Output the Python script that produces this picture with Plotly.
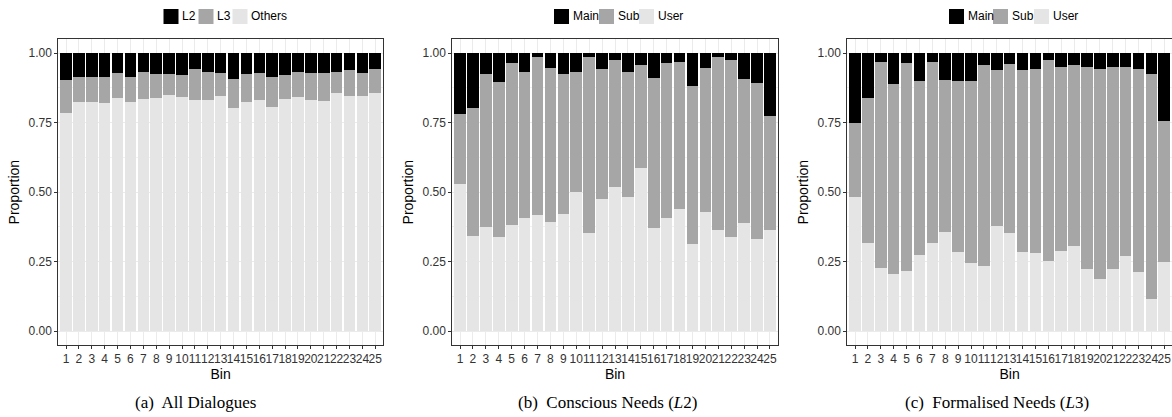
import plotly.graph_objects as go

bins = list(range(1, 26))
bin_labels = [str(b) for b in bins]

# Panel (a): All Dialogues
a_l2 = [0.098,0.084,0.084,0.084,0.073,0.084,0.068,0.076,0.076,0.080,0.058,0.068,0.073,0.094,0.076,0.073,0.087,0.080,0.066,0.073,0.073,0.068,0.062,0.073,0.058]
a_l3 = [0.117,0.092,0.092,0.096,0.089,0.092,0.098,0.086,0.076,0.079,0.111,0.101,0.082,0.104,0.100,0.096,0.107,0.086,0.093,0.096,0.100,0.076,0.093,0.082,0.086]
a_others = [0.785,0.824,0.824,0.820,0.838,0.824,0.834,0.838,0.848,0.841,0.831,0.831,0.845,0.802,0.824,0.831,0.806,0.834,0.841,0.831,0.827,0.856,0.845,0.845,0.856]

# Panel (b): Conscious Needs (L2)
b_main = [0.220,0.198,0.076,0.105,0.037,0.066,0.015,0.055,0.076,0.069,0.015,0.058,0.023,0.066,0.044,0.091,0.037,0.033,0.119,0.055,0.012,0.026,0.094,0.109,0.227]
b_sub = [0.251,0.459,0.549,0.556,0.581,0.526,0.567,0.552,0.502,0.430,0.631,0.466,0.458,0.451,0.369,0.537,0.555,0.527,0.567,0.516,0.623,0.635,0.516,0.559,0.408]
b_user = [0.529,0.343,0.375,0.339,0.382,0.408,0.418,0.393,0.422,0.501,0.354,0.476,0.519,0.483,0.587,0.372,0.408,0.440,0.314,0.429,0.365,0.339,0.390,0.332,0.365]

# Panel (c): Formalised Needs (L3)
c_main = [0.252,0.162,0.033,0.112,0.037,0.101,0.033,0.098,0.101,0.101,0.044,0.062,0.040,0.062,0.058,0.026,0.051,0.044,0.051,0.058,0.048,0.051,0.058,0.076,0.243]
c_sub = [0.265,0.520,0.739,0.681,0.746,0.624,0.649,0.545,0.613,0.653,0.720,0.559,0.606,0.652,0.660,0.721,0.660,0.649,0.724,0.753,0.727,0.678,0.728,0.807,0.507]
c_user = [0.483,0.318,0.228,0.207,0.217,0.275,0.318,0.357,0.286,0.246,0.236,0.379,0.354,0.286,0.282,0.253,0.289,0.307,0.225,0.189,0.225,0.271,0.214,0.117,0.250]

y_ticks = [0, 0.25, 0.5, 0.75, 1.0]

BLACK = "#000000"
MID = "#a6a6a6"
LIGHT = "#e5e5e5"

W, H = 1172, 417
panels = [
    (58.3, 383.0, [("Others", a_others, LIGHT), ("L3", a_l3, MID), ("L2", a_l2, BLACK)],
     "(a)  All Dialogues", 195, [163.5, 198.5, 232.5]),
    (452.3, 777.7, [("User", b_user, LIGHT), ("Sub", b_sub, MID), ("Main", b_main, BLACK)],
     "(b)  Conscious Needs (<i>L</i>2)", 608, [554, 599, 639]),
    (847.3, 1172.0, [("User", c_user, LIGHT), ("Sub", c_sub, MID), ("Main", c_main, BLACK)],
     "(c)  Formalised Needs (<i>L</i>3)", 997, [949, 993, 1034]),
]

fig = go.Figure()
y0p, y1p = 39.3, 345.0
ydom = [(H - y1p) / H, (H - y0p) / H]
KEY = 15
key_top, key_bot = 9, 24

annotations = []
shapes = []
for i, (x0, x1, series, caption, cap_x, key_x) in enumerate(panels):
    sfx = "" if i == 0 else str(i + 1)
    for name, vals, col in series:
        fig.add_trace(go.Bar(
            x=bins, y=vals, name=name, width=0.9,
            marker=dict(color=col, line=dict(width=0)),
            xaxis="x" + sfx, yaxis="y" + sfx, showlegend=False,
        ))
    for (name, vals, col), kx in zip(series[::-1], key_x):
        shapes.append(dict(
            type="rect", xref="paper", yref="paper",
            x0=kx / W, x1=(kx + KEY) / W, y0=(H - key_bot) / H, y1=(H - key_top) / H,
            fillcolor=col, line=dict(width=0), layer="above",
        ))
        annotations.append(dict(
            text=name, x=(kx + KEY + 1.5) / W, y=(H - 16.5) / H, xref="paper", yref="paper",
            xanchor="left", yanchor="middle", showarrow=False,
            font=dict(family="Liberation Sans", size=12, color="#000000"),
        ))
    xd = [x0 / W, min(x1 / W, 1.0)]
    fig.update_layout(**{
        "xaxis" + sfx: dict(
            domain=xd, range=[0.4, 25.6], anchor="y" + sfx,
            tickmode="array", tickvals=bins, ticktext=bin_labels, tickangle=0,
            ticks="outside", ticklen=3, tickcolor="#333333", tickwidth=1,
            tickfont=dict(family="Liberation Sans", size=12, color="#333333"),
            showgrid=True, gridcolor="#ebebeb", gridwidth=1,
            showline=True, mirror=True, linecolor="#333333", linewidth=1,
            zeroline=False,
            title=dict(text="Bin", font=dict(family="Liberation Sans", size=14, color="#000000"), standoff=2),
        ),
        "yaxis" + sfx: dict(
            domain=ydom, range=[-0.05, 1.05], anchor="x" + sfx,
            tickmode="array", tickvals=y_ticks, tickformat=".2f",
            ticks="outside", ticklen=3, tickcolor="#333333", tickwidth=1,
            tickfont=dict(family="Liberation Sans", size=12, color="#333333"),
            showgrid=True, gridcolor="#ebebeb", gridwidth=1,
            minor=dict(tickvals=[0.125, 0.375, 0.625, 0.875], showgrid=True, gridcolor="#f2f2f2", gridwidth=0.5, ticks=""),
            showline=True, mirror=True, linecolor="#333333", linewidth=1,
            zeroline=False,
            title=dict(text="Proportion", font=dict(family="Liberation Sans", size=14, color="#000000"), standoff=5),
        ),
    })
    annotations.append(dict(
        text=caption, x=cap_x / W, y=(H - 402) / H, xref="paper", yref="paper",
        xanchor="center", yanchor="middle", showarrow=False,
        font=dict(family="Liberation Serif", size=17, color="#000000"),
    ))

fig.update_layout(
    width=W, height=H, barmode="stack", bargap=0.1,
    margin=dict(l=0, r=0, t=0, b=0),
    paper_bgcolor="white", plot_bgcolor="white",
    annotations=annotations, shapes=shapes, showlegend=False,
)

fig.write_html(
    "out.html",
    config={"displayModeBar": False},
    post_script="document.body.style.margin='0';document.body.style.overflow='hidden';",
)
